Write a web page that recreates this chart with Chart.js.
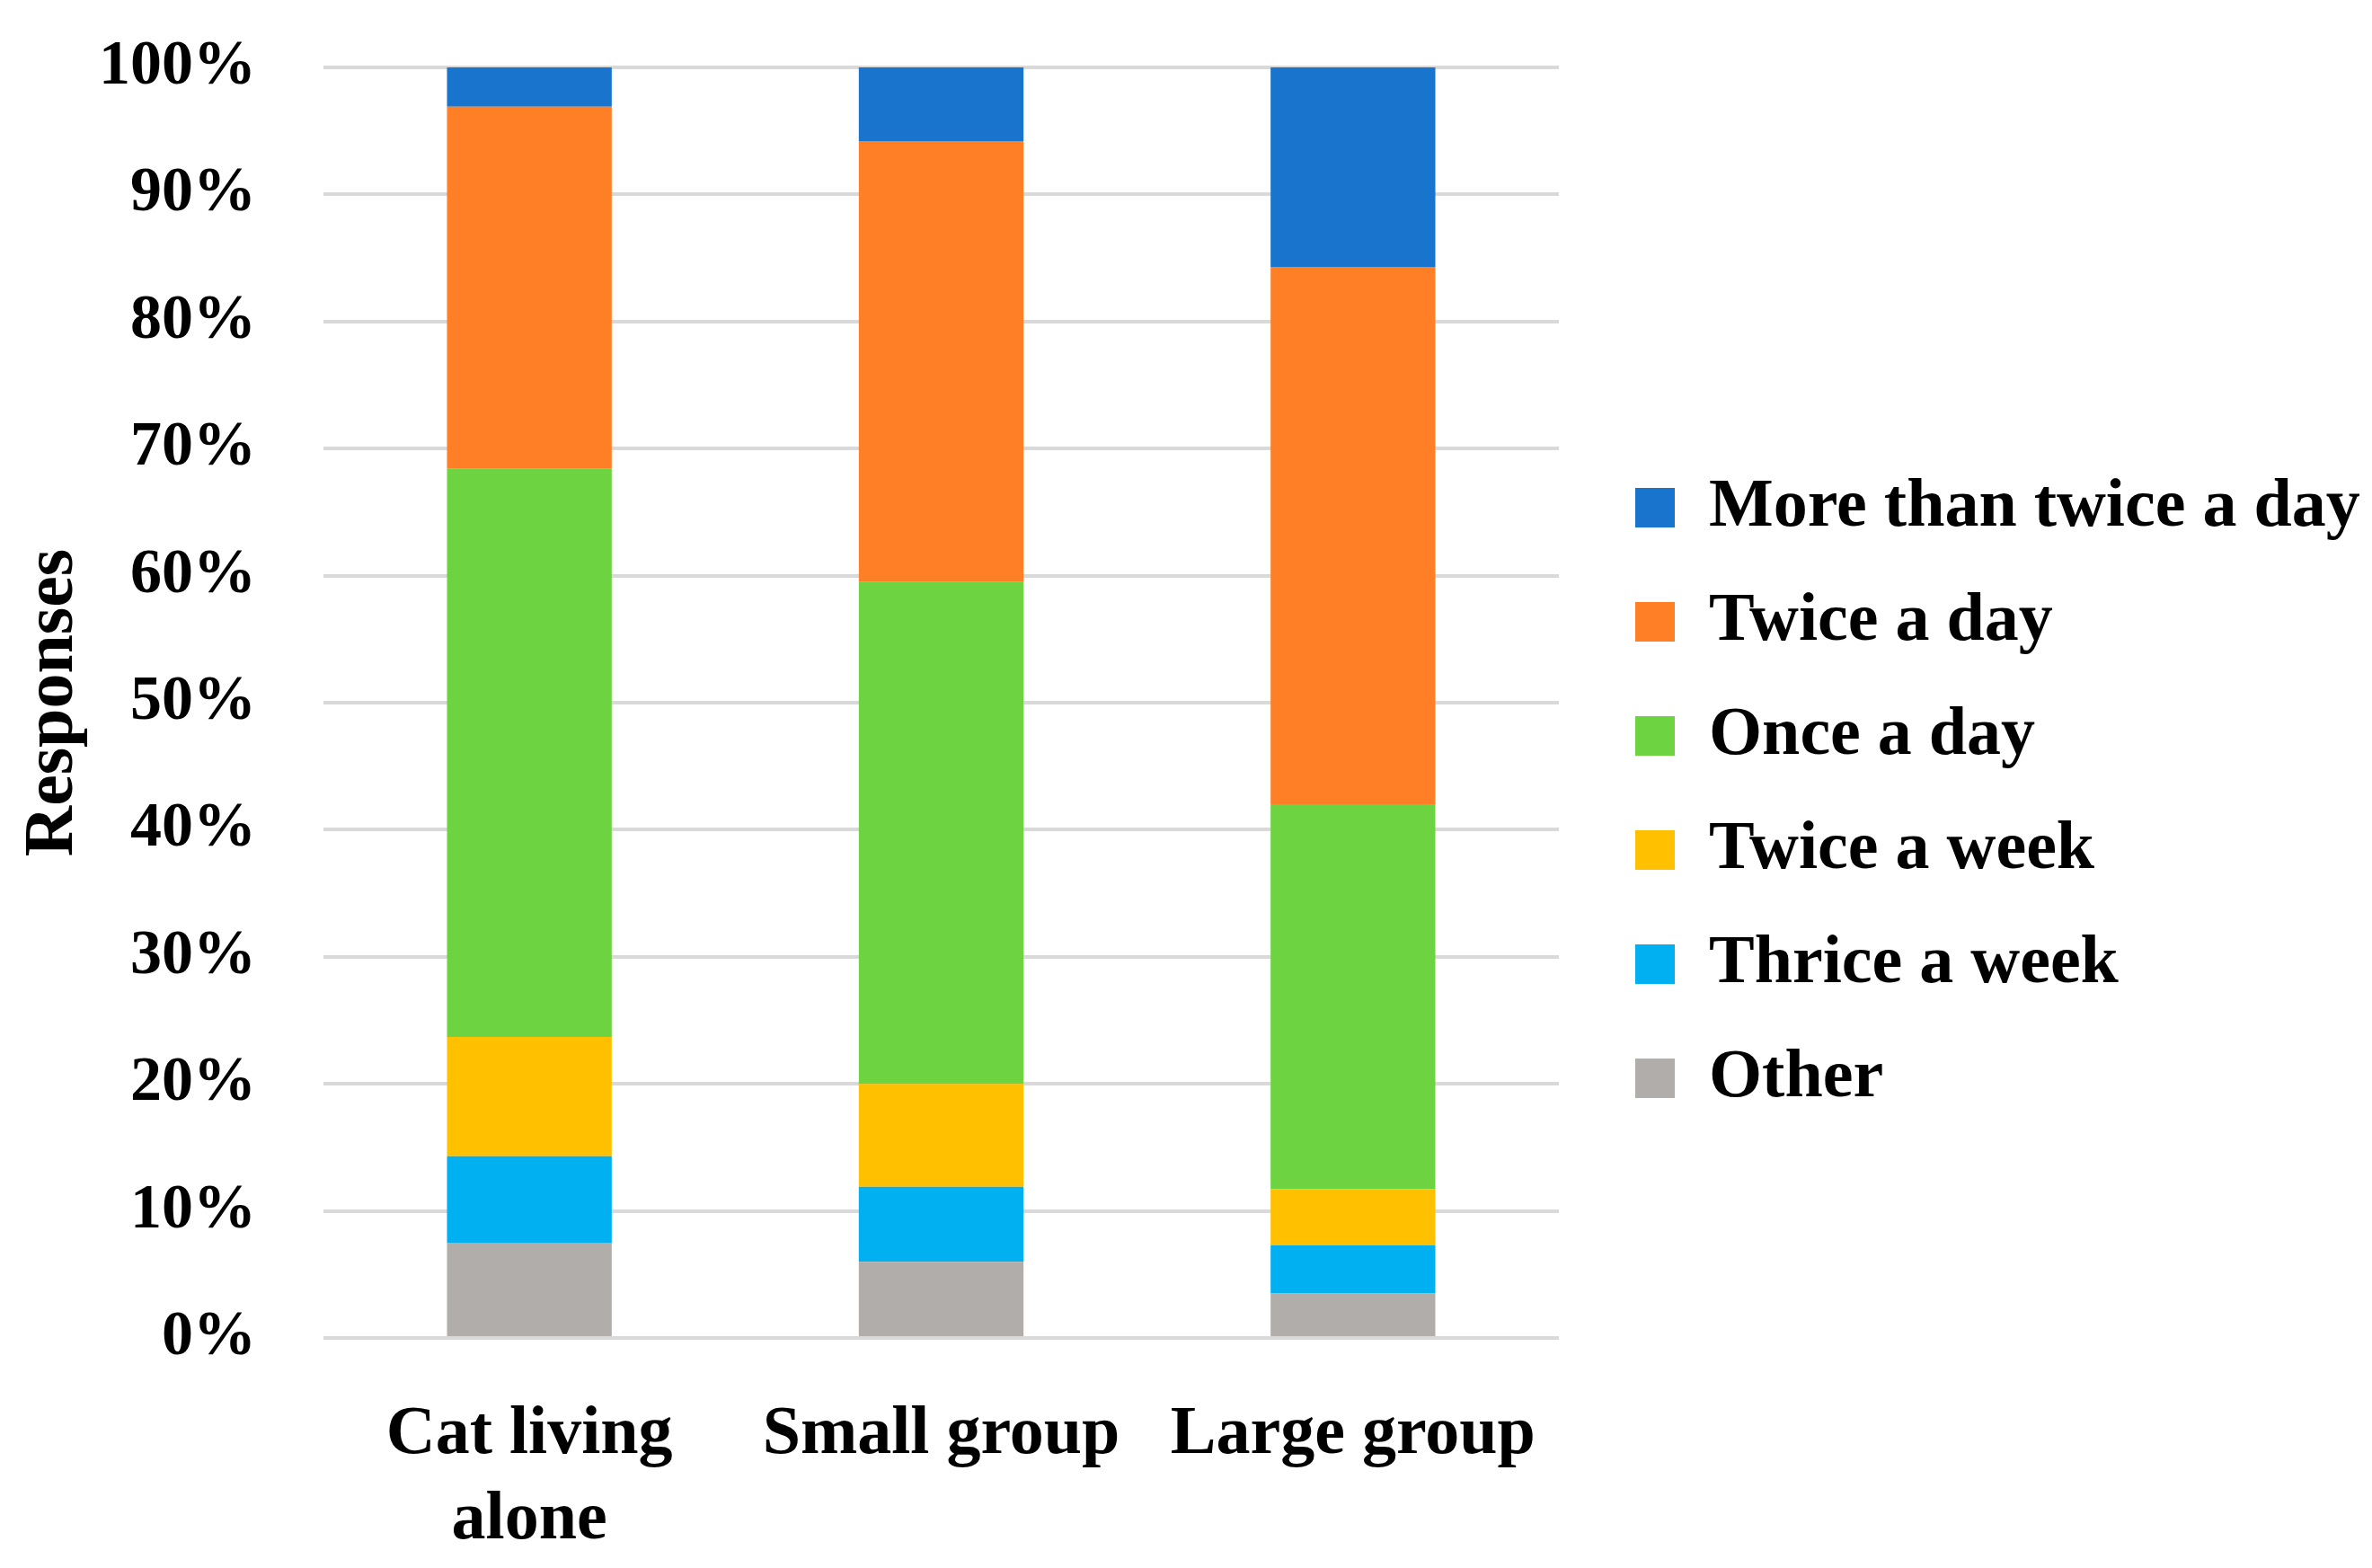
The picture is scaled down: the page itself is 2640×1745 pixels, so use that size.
<!DOCTYPE html>
<html><head><meta charset="utf-8">
<script src="https://cdn.jsdelivr.net/npm/chart.js@4/dist/chart.umd.min.js"></script>
<style>html,body{margin:0;padding:0;background:#fff}</style>
</head><body>
<canvas id="c" width="2640" height="1745"></canvas>
<script>
// ---- data ----
const categories = [['Cat living', 'alone'], 'Small group', 'Large group'];
const seriesNames = ['Other', 'Thrice a week', 'Twice a week', 'Once a day', 'Twice a day', 'More than twice a day'];
const other = [7.5, 6.0, 3.5];
const thriceWeek = [6.8, 5.9, 3.8];
const twiceWeek = [9.4, 8.1, 4.4];
const onceDay = [44.7, 39.5, 30.3];
const twiceDay = [28.5, 34.7, 42.3];
const moreThanTwiceDay = [3.1, 5.8, 15.7];
const yTickValues = [0, 10, 20, 30, 40, 50, 60, 70, 80, 90, 100];
const yAxisTitle = 'Responses';

// ---- styles ----
const seriesColors = ['#b1adaa', '#00b0f0', '#ffc000', '#6dd341', '#ff7f27', '#1874cd'];
const FONT = "'Liberation Serif', 'Times New Roman', serif";
const FS_TICK = 70, FS_X = 76, FS_LEG = 76, FS_TITLE = 78;

// layout constants (pixels)
const PLOT_LEFT = 360, PLOT_RIGHT = 1735, PLOT_TOP = 75, PLOT_BOTTOM = 1489;
const W = 2640, H = 1745;
const LEGEND_BOX_LEFT = 1820, LEGEND_FIRST_CENTER = 565;
const LEGEND_BOX = 44;
const LEGEND_PAD = 127 - FS_LEG;

const seriesData = [other, thriceWeek, twiceWeek, onceDay, twiceDay, moreThanTwiceDay];

const legendPlace = {
  id: 'legendPlace',
  beforeLayout(chart) {
    const lg = chart.legend;
    if (lg && !lg._patched) {
      const f = lg.fit.bind(lg);
      lg.fit = function () { f(); this.width = W - PLOT_RIGHT; };
      lg._patched = true;
    }
  },
  afterLayout(chart) {
    const lg = chart.legend;
    if (!lg) return;
    const w = lg.width;
    lg.left = LEGEND_BOX_LEFT - LEGEND_PAD;
    lg.right = lg.left + w;
    const n = seriesNames.length;
    const itemH = Math.max(FS_LEG, LEGEND_BOX);
    const colH = n * (itemH + LEGEND_PAD);
    const h = lg.bottom - lg.top;
    const wantCursor = LEGEND_FIRST_CENTER - itemH / 2;
    const top = (2 * wantCursor - LEGEND_PAD - h + colH) / 2;
    lg.top = top;
    lg.bottom = top + h;
  }
};

new Chart(document.getElementById('c'), {
  type: 'bar',
  data: {
    labels: categories,
    datasets: seriesNames.map((name, i) => ({
      label: name,
      data: seriesData[i],
      backgroundColor: seriesColors[i],
      borderWidth: 0,
      barPercentage: 0.4,
      categoryPercentage: 1.0
    }))
  },
  options: {
    responsive: false,
    devicePixelRatio: 1,
    animation: false,
    layout: { padding: { left: 0, right: 0, top: PLOT_TOP, bottom: 0 } },
    plugins: {
      legend: {
        position: 'right',
        reverse: true,
        labels: {
          boxWidth: LEGEND_BOX,
          boxHeight: LEGEND_BOX,
          padding: LEGEND_PAD,
          color: '#000',
          font: { family: FONT, size: FS_LEG, weight: 'bold' }
        }
      },
      tooltip: { enabled: false }
    },
    scales: {
      x: {
        stacked: true,
        grid: { display: false, drawTicks: false },
        border: { display: false },
        ticks: {
          color: '#000',
          padding: 61,
          maxRotation: 0,
          font: { family: FONT, size: FS_X, weight: 'bold', lineHeight: 1.25 }
        },
        afterFit(scale) { scale.height = H - PLOT_BOTTOM; }
      },
      y: {
        stacked: true,
        min: 0,
        max: 100,
        afterBuildTicks(scale) { scale.ticks = yTickValues.map(v => ({ value: v })); },
        grid: { color: '#d9d9d9', lineWidth: 4, drawTicks: false },
        border: { display: false },
        ticks: {
          color: '#000',
          padding: 75,
          font: { family: FONT, size: FS_TICK, weight: 'bold' },
          callback: v => v + '%'
        },
        title: {
          display: true,
          text: yAxisTitle,
          color: '#000',
          padding: { top: 13, bottom: 0 },
          font: { family: FONT, size: FS_TITLE, weight: 'bold' }
        },
        afterFit(scale) {
          scale.width = PLOT_LEFT;
          scale.paddingTop = 0;
          scale.paddingBottom = 0;
        }
      }
    }
  },
  plugins: [legendPlace]
});
</script>
</body></html>
